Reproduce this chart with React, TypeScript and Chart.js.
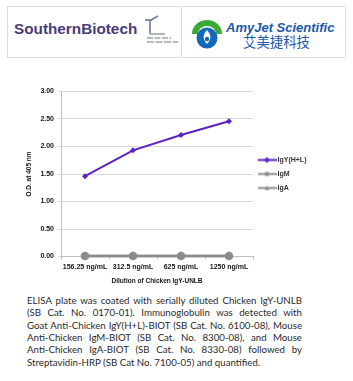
import React, { useEffect, useRef } from "react";
import { Chart, registerables } from "chart.js";

Chart.register(...registerables);

const categories = ["156.25 ng/mL", "312.5 ng/mL", "625 ng/mL", "1250 ng/mL"];
const seriesNames = ["IgY(H+L)", "IgM", "IgA"];
const igyValues = [1.46, 1.93, 2.21, 2.46];
const igmValues = [0.01, 0.01, 0.01, 0.01];
const igaValues = [0.01, 0.01, 0.01, 0.01];
const yMin = 0;
const yMax = 3;
const yStep = 0.5;
const yTitle = "O.D. at 405 nm";
const xTitle = "Dilution of Chicken IgY-UNLB";

const paragraphLines = [
  "ELISA plate was coated with serially diluted Chicken IgY-UNLB",
  "(SB Cat. No. 0170-01).  Immunoglobulin was detected with",
  "Goat Anti-Chicken IgY(H+L)-BIOT (SB Cat. No. 6100-08), Mouse",
  "Anti-Chicken IgM-BIOT (SB Cat. No. 8300-08), and Mouse",
  "Anti-Chicken IgA-BIOT (SB Cat. No. 8330-08) followed by",
  "Streptavidin-HRP (SB Cat No. 7100-05) and quantified.",
];

const PURPLE = "#5b22c0";
const GRAY = "#8c8c8c";
const TEXT = "#141414";
const FONT = "'Liberation Sans', Arial, sans-serif";

function makeIcon(color: string, style: string, lw: number): HTMLCanvasElement {
  const c = document.createElement("canvas");
  c.width = 19;
  c.height = 9;
  const ctx = c.getContext("2d")!;
  ctx.strokeStyle = color;
  ctx.fillStyle = color;
  ctx.lineWidth = lw;
  ctx.beginPath();
  ctx.moveTo(0, 4.5);
  ctx.lineTo(19, 4.5);
  ctx.stroke();
  ctx.beginPath();
  if (style === "diamond") {
    ctx.moveTo(9.5, 1.5);
    ctx.lineTo(12.5, 4.5);
    ctx.lineTo(9.5, 7.5);
    ctx.lineTo(6.5, 4.5);
  } else if (style === "circle") {
    ctx.arc(9.5, 4.5, 2.3, 0, Math.PI * 2);
  } else {
    ctx.moveTo(9.5, 2);
    ctx.lineTo(12, 6.5);
    ctx.lineTo(7, 6.5);
  }
  ctx.closePath();
  ctx.fill();
  return c;
}

function ChartBox() {
  const ref = useRef<HTMLCanvasElement | null>(null);
  useEffect(() => {
    if (!ref.current) return;
    const icons = [
      makeIcon(PURPLE, "diamond", 2),
      makeIcon(GRAY, "circle", 2),
      makeIcon(GRAY, "triangle", 2),
    ];
    const legendFix = {
      id: "legendFix",
      afterInit(chart: any) {
        const lg = chart.legend;
        if (lg && !lg.__patched) {
          const orig = lg.fit.bind(lg);
          lg.fit = function () {
            orig();
            this.width = 100;
          };
          lg.__patched = true;
        }
      },
    };
    const chart = new Chart(ref.current, {
      type: "line",
      data: {
        labels: categories,
        datasets: [
          {
            label: seriesNames[0],
            data: igyValues,
            borderColor: PURPLE,
            backgroundColor: PURPLE,
            borderWidth: 2,
            pointStyle: "rectRot",
            pointRadius: 3,
            pointBorderWidth: 0,
            tension: 0,
            clip: false as any,
          },
          {
            label: seriesNames[1],
            data: igmValues,
            borderColor: GRAY,
            backgroundColor: GRAY,
            borderWidth: 2.5,
            pointStyle: "circle",
            pointRadius: 4.3,
            pointBorderWidth: 0,
            tension: 0,
            clip: false as any,
          },
          {
            label: seriesNames[2],
            data: igaValues,
            borderColor: GRAY,
            backgroundColor: GRAY,
            borderWidth: 2.5,
            pointStyle: "triangle",
            pointRadius: 4.3,
            pointBorderWidth: 0,
            tension: 0,
            clip: false as any,
          },
        ],
      },
      options: {
        animation: false,
        responsive: false,
        maintainAspectRatio: false,
        layout: { padding: { top: 29.5, bottom: 0, left: 0, right: 0 } },
        plugins: {
          tooltip: { enabled: false },
          legend: {
            position: "right",
            fullSize: false,
            align: "center",
            labels: {
              usePointStyle: true,
              pointStyleWidth: 14,
              boxHeight: 7,
              padding: 7,
              color: "#333",
              font: { family: FONT, size: 7, weight: "bold" },
              generateLabels(chart: any) {
                const items = Chart.defaults.plugins.legend.labels.generateLabels(chart);
                return items.map((it: any, i: number) => ({ ...it, pointStyle: icons[i] }));
              },
            },
          },
        },
        scales: {
          x: {
            type: "category",
            offset: true,
            afterFit(scale: any) {
              scale.height = 33.5;
            },
            grid: {
              display: true,
              drawOnChartArea: false,
              drawTicks: true,
              tickLength: 3,
              offset: true,
              color: "#bfbfbf",
            },
            border: { display: true, color: "#bfbfbf", width: 1 },
            ticks: {
              color: TEXT,
              padding: 3,
              maxRotation: 0,
              autoSkip: false,
              font: { family: FONT, size: 7, weight: "bold" },
            },
            title: {
              display: true,
              text: xTitle,
              color: TEXT,
              font: { family: FONT, size: 6.5, weight: "bold" },
              padding: { top: 4, bottom: 5 },
            },
          },
          y: {
            min: yMin,
            max: yMax,
            afterFit(scale: any) {
              scale.width = 61;
            },
            grid: {
              color: "#d9d9d9",
              drawTicks: true,
              tickLength: 3,
            },
            border: { display: true, color: "#bfbfbf", width: 1 },
            ticks: {
              stepSize: yStep,
              color: TEXT,
              padding: 4,
              font: { family: FONT, size: 7, weight: "bold" },
              callback: (v: any) => Number(v).toFixed(2),
            },
            title: {
              display: true,
              text: yTitle,
              color: TEXT,
              font: { family: FONT, size: 6.5, weight: "bold" },
              padding: { top: 25, bottom: 0 },
            },
          },
        },
      },
      plugins: [legendFix],
    } as any);
    return () => chart.destroy();
  }, []);
  return (
    <canvas
      ref={ref}
      width={353}
      height={228}
      style={{ position: "absolute", left: 0, top: 62, width: 353, height: 228 }}
    />
  );
}

export default function App() {
  return (
    <div style={{ position: "absolute", left: 0, top: 0, width: 353, height: 381, background: "#fff", overflow: "hidden" }}>
      <div style={{ position: "absolute", left: 7, top: 6, width: 337, height: 50, border: "1px solid #dedede" }} />
      <div style={{ position: "absolute", left: 181, top: 6, width: 1, height: 52, background: "#dedede" }} />
      <div
        style={{
          position: "absolute",
          left: 14,
          top: 21.3,
          fontFamily: "'Liberation Sans', Arial, sans-serif",
          fontWeight: "bold",
          fontSize: 15.3,
          lineHeight: 1,
          color: "#4a3c78",
          whiteSpace: "nowrap",
        }}
      >
        SouthernBiotech
      </div>
      <svg style={{ position: "absolute", left: 143, top: 14 }} width={38} height={32}>
        <line x1={7} y1={6} x2={7} y2={20} stroke="#6c7a9c" strokeWidth={1.6} />
        <line x1={2} y1={6} x2={9} y2={6} stroke="#6c7a9c" strokeWidth={1.6} />
        <line x1={8} y1={6} x2={15} y2={2} stroke="#6c7a9c" strokeWidth={1.6} />
        <line x1={7} y1={20} x2={22} y2={20} stroke="#9aa8a8" strokeWidth={1.6} />
        <line x1={4} y1={24} x2={28} y2={24} stroke="#9aa8a8" strokeWidth={1.6} strokeDasharray="6 1.5" />
        <line x1={4} y1={28} x2={35} y2={28} stroke="#9aa8a8" strokeWidth={1.6} strokeDasharray="7 1.5" />
      </svg>
      <svg style={{ position: "absolute", left: 190, top: 15 }} width={34} height={35}>
        <path d="M2 19 A15 14 0 0 1 32 19 L26 19 A9 8 0 0 0 8 19 Z" fill="#3aa935" />
        <circle cx={17} cy={23} r={10.5} fill="#1468b8" />
        <path d="M17 15 C21 20 22 23 17 29 C12 23 13 20 17 15 Z" fill="#fff" />
        <circle cx={17} cy={24} r={2.2} fill="#1468b8" />
      </svg>
      <div
        style={{
          position: "absolute",
          left: 226,
          top: 21,
          fontFamily: "'Liberation Sans', Arial, sans-serif",
          fontWeight: "bold",
          fontStyle: "italic",
          fontSize: 13,
          lineHeight: 1,
          color: "#1d5aa8",
          whiteSpace: "nowrap",
        }}
      >
        AmyJet Scientific
      </div>
      <div
        style={{
          position: "absolute",
          left: 243,
          top: 34.5,
          fontFamily: "'Noto Sans CJK SC', sans-serif",
          fontSize: 13.4,
          lineHeight: 1,
          color: "#1d5aa8",
          whiteSpace: "nowrap",
        }}
      >
        艾美捷科技
      </div>
      <ChartBox />
      <div
        style={{
          position: "absolute",
          left: 27,
          top: 293.8,
          width: 275,
          fontFamily: "Lato, sans-serif",
          fontSize: 9.7,
          lineHeight: "12.4px",
          color: "#2a2a2a",
        }}
      >
        {paragraphLines.map((line, i) => (
          <div
            key={i}
            style={{
              whiteSpace: "nowrap",
              textAlign: i === paragraphLines.length - 1 ? "left" : "justify",
              textAlignLast: i === paragraphLines.length - 1 ? "left" : "justify",
            }}
          >
            {line}
          </div>
        ))}
      </div>
    </div>
  );
}
